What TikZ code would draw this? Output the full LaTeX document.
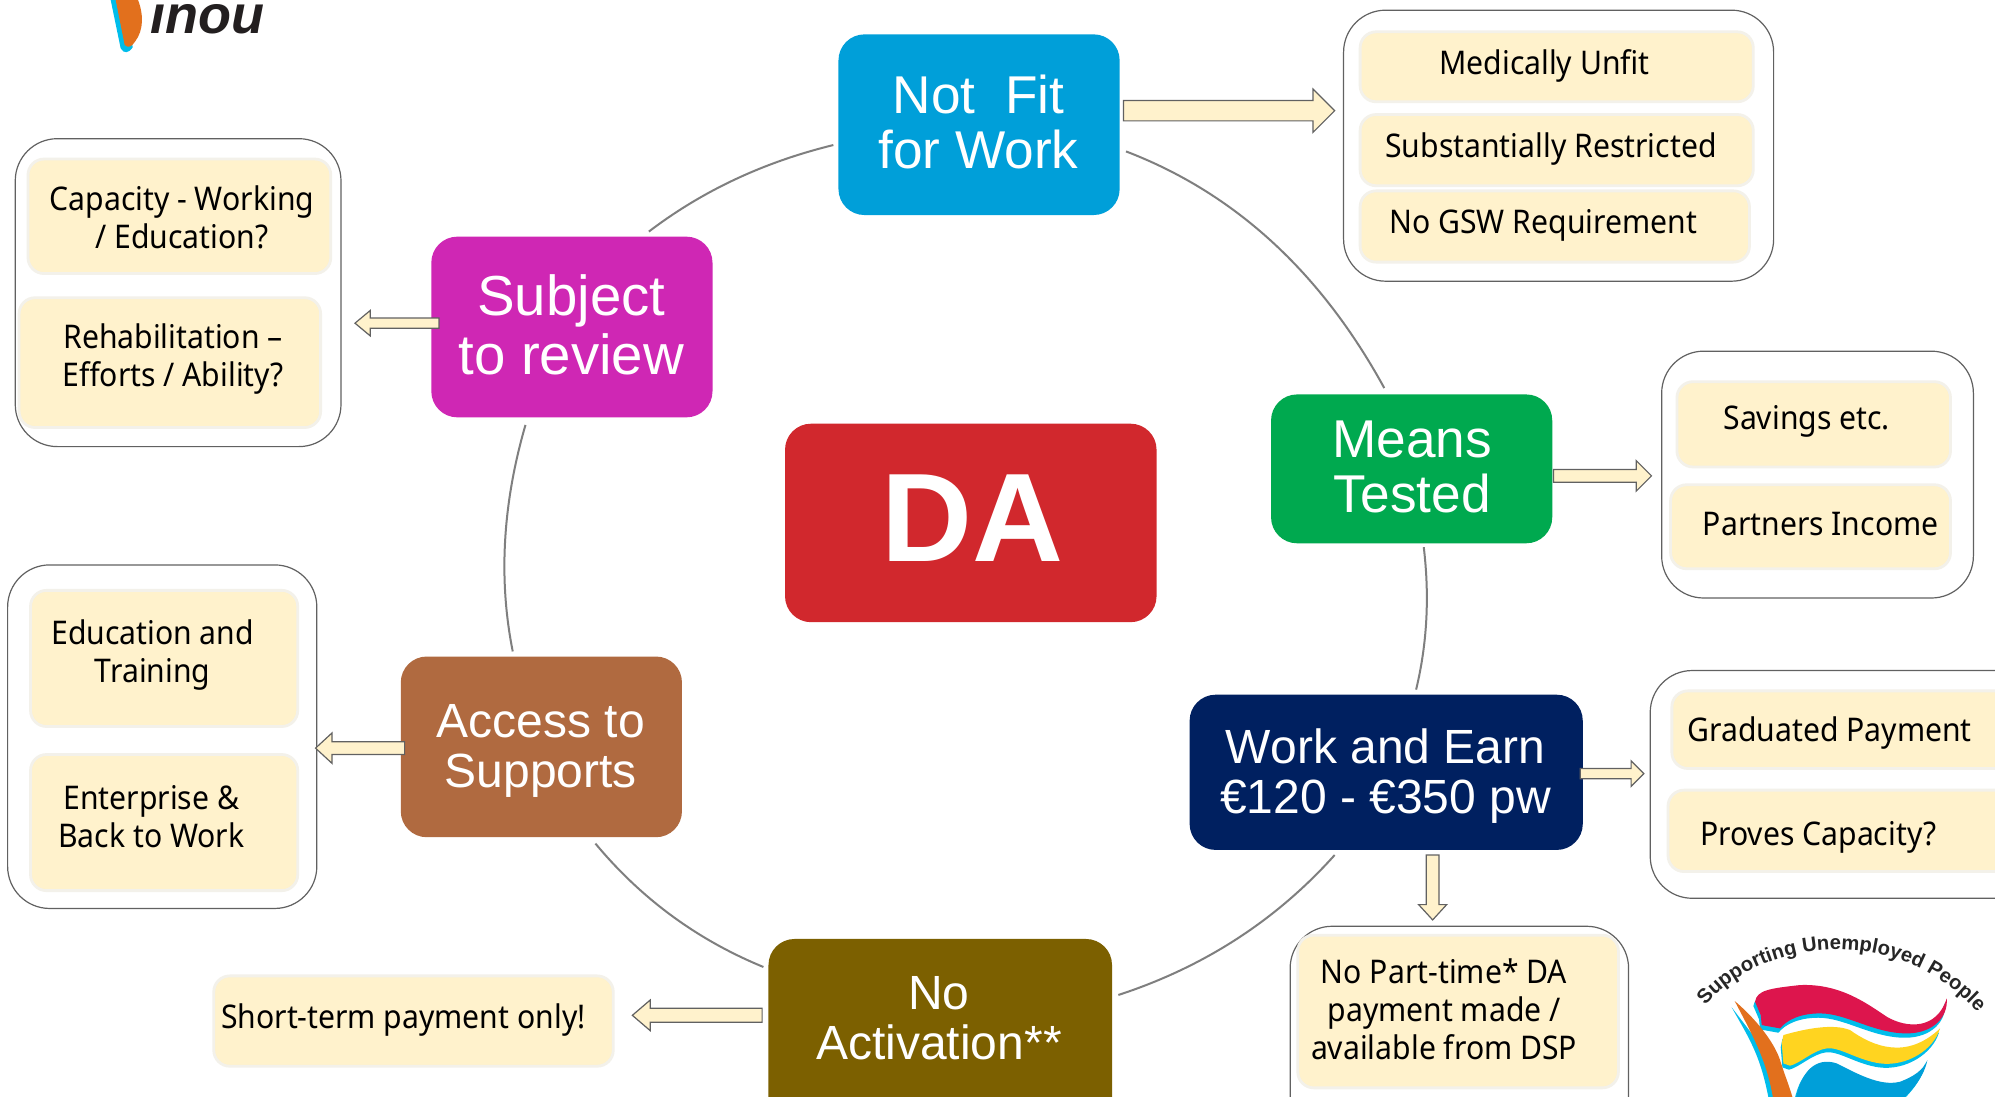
\documentclass[tikz,border=0pt]{standalone}
\usepackage{fontspec}
\setmainfont{Liberation Sans}
\newfontfamily\notef[FakeStretch=0.925]{Noto Sans}
\usetikzlibrary{decorations.text,calc}
\definecolor{ybox}{HTML}{FFF2CC}
\definecolor{yedge}{HTML}{F3F1EA}
\definecolor{ringc}{HTML}{7F7F7F}
\definecolor{logocy}{HTML}{00BDEB}
\definecolor{flagred}{HTML}{DD154D}
\definecolor{flagyel}{HTML}{FFD420}
\definecolor{flagblu}{HTML}{009FD9}
\definecolor{logoor}{HTML}{E2701D}
\tikzset{
  x=0.63615pt,y=-0.63615pt,
  outerbox/.style={draw=black!62,line width=0.6pt,fill=white,rounded corners=21pt,inner sep=0pt},
  yellowbox/.style={draw=yedge,line width=1.4pt,fill=ybox,rounded corners=8pt,inner sep=0pt},
  mainbox/.style={rounded corners=13pt,inner sep=0pt},
  subtext/.style={font=\notef\fontsize{16.3}{19}\selectfont,align=center,text=black,inner sep=0pt},
  bigtext/.style={text=white,align=center,inner sep=0pt},
  blockarrow/.style={draw=black!62,line width=0.6pt,fill=ybox},
  ring/.style={draw=ringc,line width=1pt}
}
\newcommand{\bx}[6]{%
  \pgfmathsetmacro{\cxv}{(#3+#5)/2}\pgfmathsetmacro{\cyv}{(#4+#6)/2}%
  \pgfmathsetmacro{\wv}{(#5-#3)*0.63615}\pgfmathsetmacro{\hv}{(#6-#4)*0.63615}%
  \node[#1,minimum width=\wv pt,minimum height=\hv pt] (#2) at (\cxv,\cyv) {};}
\newcommand{\harrow}[6]{% x0,xhead,x1,y,shaft,head
  \draw[blockarrow] (#1,#4-#5) -- (#2,#4-#5) -- (#2,#4-#6) -- (#3,#4) -- (#2,#4+#6) -- (#2,#4+#5) -- (#1,#4+#5) -- cycle;}
\newcommand{\varrow}[6]{% y0,yhead,y1,x,shaft,head
  \draw[blockarrow] (#4-#5,#1) -- (#4-#5,#2) -- (#4-#6,#2) -- (#4,#3) -- (#4+#6,#2) -- (#4+#5,#2) -- (#4+#5,#1) -- cycle;}
% quadratic curve from #1 to #2 with control point #3
\newcommand{\ringarc}[3]{%
  \draw[ring] (#1) .. controls ($(#1)!0.6667!(#3)$) and ($(#2)!0.6667!(#3)$) .. (#2);}
\begin{document}
\begin{tikzpicture}
\useasboundingbox (0,0) rectangle (1568,862);
\clip (0,0) rectangle (1568,862);
\fill[white] (0,0) rectangle (1568,862);

% ring segments
\coordinate (r1a) at (885,119); \coordinate (r1b) at (1088,305); \coordinate (q1) at (1013,168);
\coordinate (r2a) at (1119,430); \coordinate (r2b) at (1113,542); \coordinate (q2) at (1126,488);
\coordinate (r3a) at (1049,672); \coordinate (r3b) at (879,782); \coordinate (q3) at (980,749);
\coordinate (r4a) at (600,760); \coordinate (r4b) at (468,663); \coordinate (q4) at (522,728);
\coordinate (r5a) at (403,512); \coordinate (r5b) at (413,334); \coordinate (q5) at (386,427);
\coordinate (r6a) at (510,182); \coordinate (r6b) at (655,114); \coordinate (q6) at (573,134);
\ringarc{r1a}{r1b}{q1}
\ringarc{r2a}{r2b}{q2}
\ringarc{r3a}{r3b}{q3}
\ringarc{r4a}{r4b}{q4}
\ringarc{r5a}{r5b}{q5}
\ringarc{r6a}{r6b}{q6}

% outer groups
\bx{outerbox}{g1}{1056}{8}{1394}{221}
\bx{outerbox}{g2}{1306}{276}{1551}{470}
\bx{outerbox}{g3}{1297}{527}{1640}{706}
\bx{outerbox}{g4}{1014}{728}{1280}{900}
\bx{outerbox}{g5}{12}{109}{268}{351}
\bx{outerbox}{g6}{6}{444}{249}{714}

% yellow boxes
\bx{yellowbox}{y1}{1069}{25}{1378}{80}
\bx{yellowbox}{y2}{1069}{90}{1378}{146}
\bx{yellowbox}{y3}{1069}{150}{1375}{206}
\bx{yellowbox}{y4}{1318}{300}{1533}{367}
\bx{yellowbox}{y5}{1313}{381}{1533}{447}
\bx{yellowbox}{y6}{1314}{543}{1600}{604}
\bx{yellowbox}{y7}{1311}{621}{1600}{685}
\bx{yellowbox}{y8}{1020}{735}{1272}{855}
\bx{yellowbox}{y9}{168}{767}{482}{838}
\bx{yellowbox}{y10}{22}{125}{260}{215}
\bx{yellowbox}{y11}{15}{234}{252}{336}
\bx{yellowbox}{y12}{24}{464}{234}{571}
\bx{yellowbox}{y13}{24}{593}{234}{700}

\node[subtext] (t1) at (1214,52) {Medically Unfit};
\node[subtext] (t2) at (1219,117) {Substantially Restricted};
\node[subtext] (t3) at (1213,177) {No GSW Requirement};
\node[subtext] (t4) at (1420,331) {Savings etc.};
\node[subtext] (t5) at (1431,412) {Partners Income};
\node[subtext] (t6) at (1438,576) {Graduated Payment};
\node[subtext] (t7) at (1429,658) {Proves Capacity?};
\node[subtext] (t8) at (1135,793) {No Part-time* DA\\payment made /\\available from DSP};
\node[subtext] (t9) at (317,802) {Short-term payment only!};
\node[subtext] (t10) at (143,171) {Capacity - Working\\/ Education?};
\node[subtext] (t11) at (136,282) {Rehabilitation –\\Efforts / Ability?};
\node[subtext] (t12) at (120,515) {Education and\\Training};
\node[subtext] (t13) at (119,642) {Enterprise \&\\Back to Work};

% main boxes
\bx{mainbox,fill={rgb,255:red,0;green,159;blue,217}}{notfit}{659}{27}{880}{169}
\bx{mainbox,fill={rgb,255:red,0;green,169;blue,79}}{means}{999}{310}{1220}{427}
\bx{mainbox,fill={rgb,255:red,209;green,40;blue,45}}{da}{617}{333}{909}{489}
\bx{mainbox,fill={rgb,255:red,207;green,39;blue,180}}{subject}{339}{186}{560}{328}
\bx{mainbox,fill={rgb,255:red,176;green,106;blue,64}}{access}{315}{516}{536}{658}
\bx{mainbox,fill={rgb,255:red,124;green,96;blue,0}}{noact}{604}{738}{874}{900}
\bx{mainbox,fill={rgb,255:red,0;green,32;blue,96}}{work}{935}{546}{1244}{668}

% block arrows
\harrow{883}{1032}{1049}{87}{8}{17}
\harrow{1221}{1286}{1298}{374}{5}{12}
\harrow{1242}{1282}{1292}{608}{4}{10}
\varrow{672}{711}{723}{1126}{5}{11}
\harrow{599}{511}{497}{798}{5.5}{12}
\harrow{318}{261}{248}{588}{5}{12}
\harrow{345}{291}{279}{254}{4}{10}

\node[bigtext,font=\fontsize{26.6}{27.4}\selectfont] (tn) at (769,96) {Not\ \ Fit\\for Work};
\node[bigtext,font=\fontsize{26.6}{27.4}\selectfont] (tm) at (1110,367) {Means\\Tested};
\node[bigtext,font=\fontsize{28.2}{29.3}\selectfont] (ts) at (449,255.5) {Subject\\to review};
\node[bigtext,font=\fontsize{24}{25}\selectfont] (ta) at (425,590) {Access to\\Supports};
\node[bigtext,font=\fontsize{24}{25}\selectfont] (tna) at (738,800) {No\\Activation**};
\node[bigtext,font=\fontsize{24}{25}\selectfont] (tw) at (1089,610) {Work and Earn\\€120 - €350 pw};
\node[bigtext,font=\bfseries\fontsize{63}{66}\selectfont] (tda) at (764,407) {DA};

% inou logo (coordinates in 1/3 reference pixels)
\begin{scope}[x=0.16667pt,y=-0.16667pt]
\fill[logocy] (330,-10) -- (362,145) .. controls (372,162) and (386,160) .. (398,142) -- (380,0) -- cycle;
\fill[logoor] (345,-10) -- (374,135) .. controls (385,145) and (395,140) .. (405,125) .. controls (432,90) and (432,40) .. (410,-10) -- cycle;
\node[anchor=base west,inner sep=0pt,text={rgb,255:red,35;green,31;blue,32},font=\bfseries\itshape\fontsize{27}{27}\selectfont] (inou) at (450,100) {inou};
\end{scope}

% flag logo
\begin{scope}[shift={(1289,707.4)},x=0.16667pt,y=-0.16667pt]
\path[decorate,decoration={text along path,text align=center,
  text={|\bfseries\color{black!85}\fontsize{10.1}{12}\selectfont|Supporting Unemployed People}}]
  (185,332) .. controls (330,130) and (760,40) .. (1025,352);
\def\redflag{(345,305) .. controls (350,270) and (390,265) .. (480,255) .. controls (600,250) and (680,310) .. (740,350) .. controls (800,385) and (890,390) .. (920,295) .. controls (925,350) and (880,400) .. (800,400) .. controls (700,400) and (620,340) .. (540,340) .. controls (480,340) and (440,360) .. (420,385) -- (365,375) -- (362,345) -- cycle}
\def\yelflag{(430,405) .. controls (500,385) and (580,370) .. (630,390) .. controls (700,440) and (800,480) .. (900,385) .. controls (880,450) and (800,500) .. (720,490) .. controls (650,480) and (600,440) .. (560,445) .. controls (520,450) and (480,490) .. (450,497) -- (430,490) -- (425,430) -- cycle}
\def\bluflag{(465,610) .. controls (480,510) and (530,470) .. (590,490) .. controls (650,520) and (720,560) .. (780,545) .. controls (820,530) and (850,510) .. (862,480) .. controls (850,540) and (800,590) .. (760,620) -- cycle}
\fill[logocy,shift={(-5,13)}] \redflag;
\fill[flagred] \redflag;
\fill[logocy,shift={(-3,12)}] \yelflag;
\fill[flagyel] \yelflag;
\fill[logocy,shift={(-5,8)}] \bluflag;
\fill[flagblu] \bluflag;
\fill[logocy] (275,322) .. controls (330,420) and (365,470) .. (390,620) -- (420,620) -- (350,420) -- cycle;
\fill[logoor] (284,303) .. controls (340,350) and (400,420) .. (420,480) .. controls (435,530) and (450,560) .. (465,620) -- (403,620) .. controls (385,490) and (345,420) .. cycle;
\end{scope}
\end{tikzpicture}
\end{document}
